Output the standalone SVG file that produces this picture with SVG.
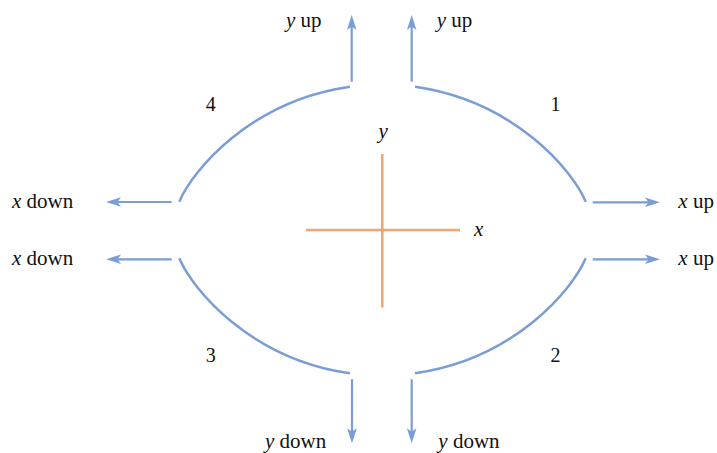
<svg xmlns="http://www.w3.org/2000/svg" width="717" height="453" viewBox="0 0 717 453">
<style>
.arc{fill:none;stroke:#7B9DD6;stroke-width:2.5}
.arr{fill:none;stroke:#7B9DD6;stroke-width:2.2;marker-end:url(#ah)}
.ax{fill:none;stroke:#F4A56C;stroke-width:2.5}
text{font-family:"Liberation Serif","Times New Roman",serif;font-size:21px;fill:#111}
.n{font-size:20px;text-anchor:middle}
.i{font-style:italic}
</style>
<defs>
<marker id="ah" viewBox="-16 -6 17 12" markerWidth="17" markerHeight="12" refX="-10" refY="0" markerUnits="userSpaceOnUse" orient="auto">
<path d="M-15,-4.8 L0,0 L-15,4.8 L-11.5,0 Z" fill="#7B9DD6"/>
</marker>
</defs>
<g id="quadrant1"><path class="arc" d="M415,86.7 C515,100.9 572.8,171 585.7,201.7"/><text class="n" x="555.5" y="111">1</text></g>
<g id="quadrant2"><path class="arc" d="M415,373.3 C515,359.1 572.8,289 585.7,258.3"/><text class="n" x="555.5" y="361.5">2</text></g>
<g id="quadrant3"><path class="arc" d="M350,373.3 C250,359.1 192.2,289 179.3,258.3"/><text class="n" x="210.7" y="361.5">3</text></g>
<g id="quadrant4"><path class="arc" d="M350,86.7 C250,100.9 192.2,171 179.3,201.7"/><text class="n" x="210.7" y="111">4</text></g>
<g id="axes">
<line class="ax" x1="382.3" y1="154" x2="382.3" y2="307.5"/>
<line class="ax" x1="306" y1="230" x2="460" y2="230"/>
<text class="i" x="378.5" y="137.5">y</text>
<text class="i" x="474" y="235.5">x</text>
</g>
<g id="connectors">
<line class="arr" x1="351.7" y1="81.7" x2="351.7" y2="25"/>
<line class="arr" x1="411.7" y1="81.7" x2="411.7" y2="25"/>
<line class="arr" x1="352" y1="379.3" x2="352" y2="433.3"/>
<line class="arr" x1="411.7" y1="379.3" x2="411.7" y2="433.3"/>
<line class="arr" x1="171.7" y1="202" x2="116" y2="202"/>
<line class="arr" x1="171.7" y1="259.3" x2="116" y2="259.3"/>
<line class="arr" x1="592.7" y1="202.3" x2="650" y2="202.3"/>
<line class="arr" x1="592.7" y1="259.3" x2="650" y2="259.3"/>
</g>
<g id="labels">
<text x="286" y="26.5"><tspan class="i">y</tspan> up</text>
<text x="436.7" y="26.5"><tspan class="i">y</tspan> up</text>
<text x="12" y="208"><tspan class="i">x</tspan> down</text>
<text x="12" y="265"><tspan class="i">x</tspan> down</text>
<text x="678.3" y="208"><tspan class="i">x</tspan> up</text>
<text x="678.3" y="265"><tspan class="i">x</tspan> up</text>
<text x="265" y="448"><tspan class="i">y</tspan> down</text>
<text x="438.3" y="448"><tspan class="i">y</tspan> down</text>
</g>
</svg>
